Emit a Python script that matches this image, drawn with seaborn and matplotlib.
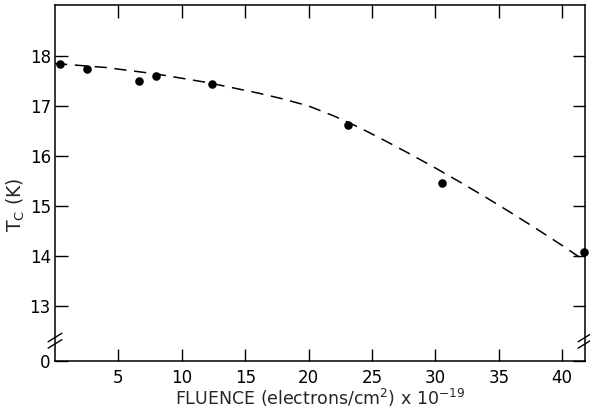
import matplotlib
matplotlib.use("Agg")
import matplotlib.pyplot as plt
import seaborn as sns
import pandas as pd

# measured points
fluence = [0.4, 2.5, 6.6, 8.0, 12.4, 23.1, 30.5, 41.7]
tc = [17.83, 17.74, 17.49, 17.59, 17.43, 16.62, 15.45, 14.07]

# dashed fit curve
curve_x = [0, 4, 8, 12, 16, 18, 20, 22, 24, 26, 28, 30, 32, 34, 36, 38, 40, 41.8]
curve_y = [17.85, 17.77, 17.64, 17.47, 17.26, 17.14, 17.00, 16.80, 16.57, 16.31,
           16.04, 15.76, 15.47, 15.17, 14.86, 14.54, 14.21, 13.90]

xticks = [5, 10, 15, 20, 25, 30, 35, 40]
yticks = [13, 14, 15, 16, 17, 18]
ymin, ymax = 11.9, 19.02
xmin, xmax = 0, 41.8

sns.set_style("ticks")
plt.rcParams['font.family'] = ['DejaVu Sans']

fig = plt.figure(figsize=(5.9, 4.15), dpi=100)
ax = fig.add_axes([55/590, 54/415, 530/590, 356/415])

pts = pd.DataFrame({"x": fluence, "y": tc})
crv = pd.DataFrame({"x": curve_x, "y": curve_y})

sns.lineplot(data=crv, x="x", y="y", ax=ax, color="black", linewidth=1.1,
             estimator=None, sort=False, linestyle=(0, (8, 5)))
sns.scatterplot(data=pts, x="x", y="y", ax=ax, color="black", s=38,
                edgecolor="black", linewidth=0, clip_on=False, zorder=3)

ax.set_xlim(xmin, xmax)
ax.set_ylim(ymin, ymax)
ax.set_xticks(xticks)
ax.set_xticklabels([str(t) for t in xticks])
ax.set_yticks([ymin] + yticks)
ax.set_yticklabels(["0"] + [str(t) for t in yticks])

ax.tick_params(direction="in", length=9, width=1, colors="black",
               labelsize=12, top=True, right=True)
ax.tick_params(axis="x", pad=6)
ax.tick_params(axis="y", pad=3)
for s in ax.spines.values():
    s.set_visible(True)
    s.set_linewidth(1.1)
    s.set_color("black")

ax.set_xlabel(r"FLUENCE (electrons/cm$^{2}$) x 10$^{-19}$", fontsize=12.5)
ax.set_ylabel(r"T$_{\mathrm{C}}$ (K)", fontsize=13.5)
ax.yaxis.set_label_coords(-0.052, 0.44)
ax.xaxis.set_label_coords(0.5, -0.072)

# axis break marks
for xa in (0.0, 1.0):
    for yc in (0.048, 0.066):
        ax.plot([xa - 0.013, xa + 0.013], [yc - 0.012, yc + 0.012],
                transform=ax.transAxes, color="black", linewidth=1.0,
                clip_on=False)

fig.savefig("out.png", dpi=100)
